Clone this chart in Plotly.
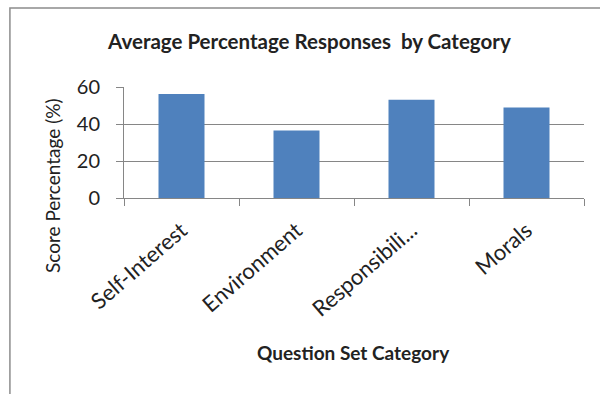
import plotly.graph_objects as go

categories = ["Self-Interest", "Environment", "Responsibili...", "Morals"]
values = [56.2, 36.5, 53.1, 48.9]
y_ticks = [0, 20, 40, 60]

FONT = "Lato"
TXT = "#222222"
GRID = "#868686"
fig = go.Figure(go.Bar(x=categories, y=values, marker=dict(color="#4F81BD", line=dict(width=0)), width=0.4))

fig.update_layout(
    width=600, height=394,
    margin=dict(l=124, r=16, t=87, b=196),
    paper_bgcolor="white", plot_bgcolor="white",
    font=dict(family=FONT, color=TXT),
    showlegend=False,
    title=dict(text="<b>Average Percentage Responses  by Category</b>", x=0.5157, xanchor="center",
               y=0.894, yanchor="middle", font=dict(size=20.5, family=FONT, color=TXT)),
)
fig.update_yaxes(range=[0, 60], tickvals=y_ticks, showgrid=True, gridcolor=GRID, gridwidth=1,
                 showline=True, linecolor=GRID, linewidth=1, ticks="outside", ticklen=7,
                 tickcolor=GRID, tickfont=dict(size=20, family=FONT, color=TXT), zeroline=False,
                 ticklabelstandoff=12)
fig.update_xaxes(showline=True, linecolor=GRID, linewidth=1, ticks="outside", ticklen=7,
                 tickcolor=GRID, tickson="boundaries", tickangle=-41,
                 tickfont=dict(size=22, family=FONT, color=TXT), showgrid=False,
                 ticklabelstandoff=10)

fig.add_annotation(text="Score Percentage (%)", xref="paper", yref="paper", x=-0.154, y=0.11,
                   xanchor="center", yanchor="middle",
                   textangle=-90, showarrow=False, font=dict(size=19, family=FONT, color=TXT))
fig.add_annotation(text="<b>Question Set Category</b>", xref="paper", yref="paper", x=0.499, y=-1.396,
                   xanchor="center", yanchor="middle",
                   showarrow=False, font=dict(size=19, family=FONT, color=TXT))

# chart-area frame (top and left edges visible)
fig.add_shape(type="rect", xref="paper", yref="paper", x0=-0.248, x1=1.05, y0=-1.9, y1=1.712,
              line=dict(color="#8c8c8c", width=1.5), fillcolor="rgba(0,0,0,0)", layer="below")

fig.write_html("out.html")
